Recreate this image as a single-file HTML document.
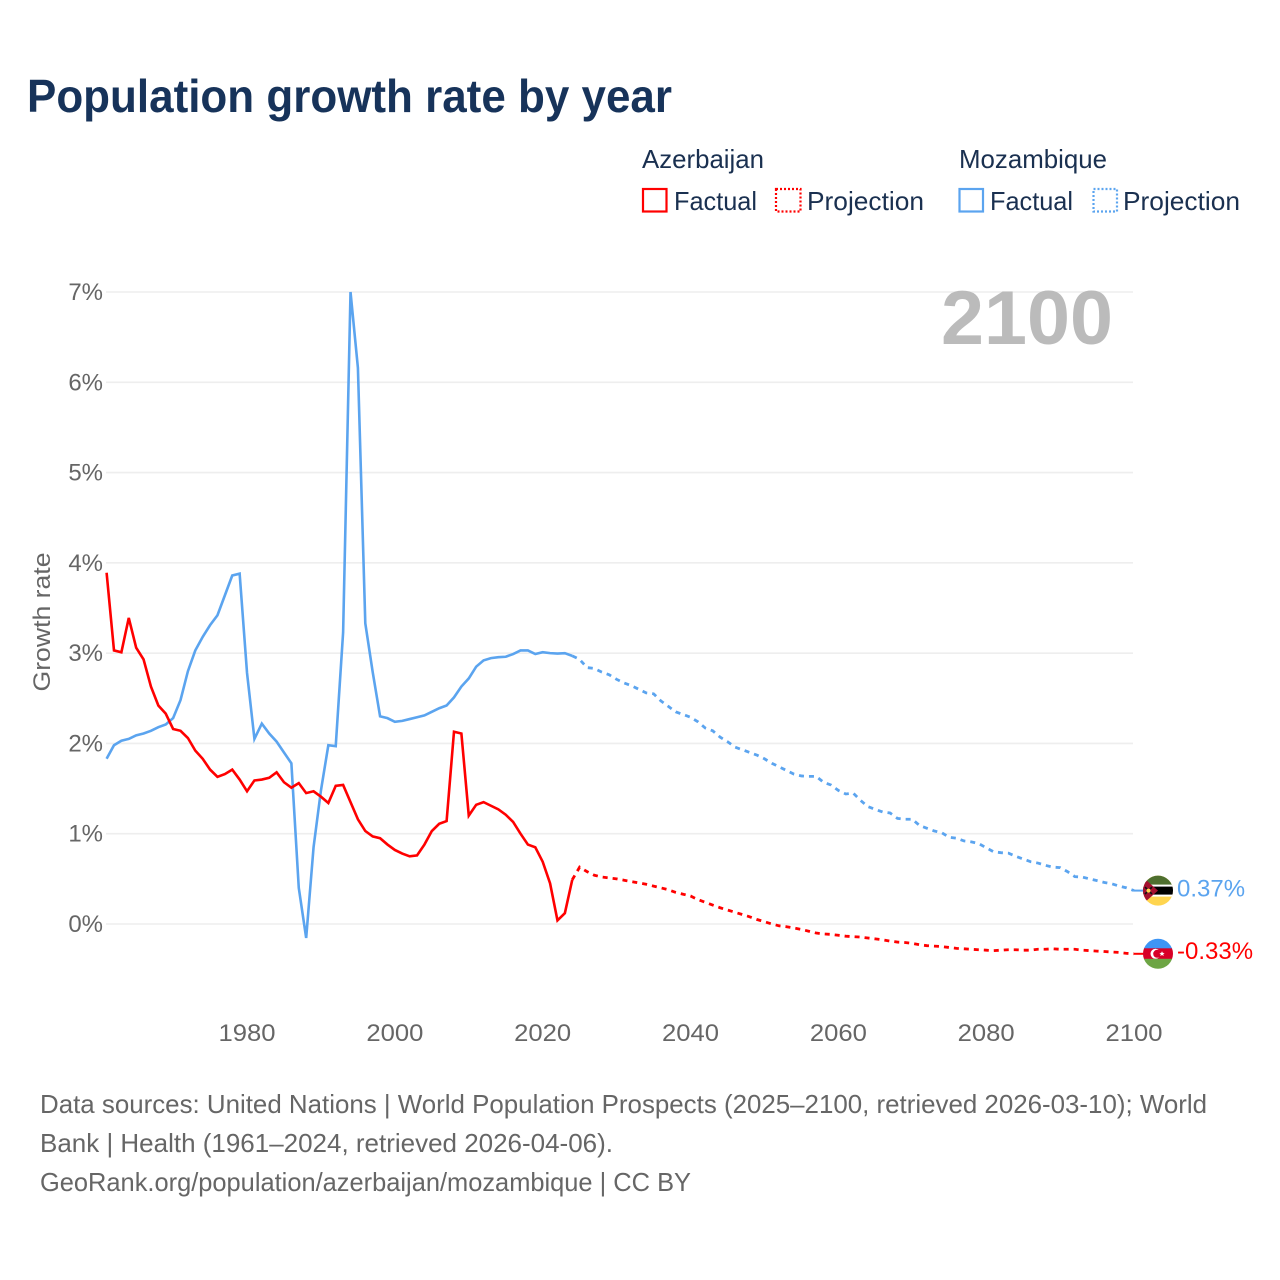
<!DOCTYPE html>
<html lang="en">
<head>
<meta charset="utf-8">
<title>Population growth rate by year</title>
<style>
html,body{margin:0;padding:0;background:#fff;}
svg{display:block;font-family:"Liberation Sans",sans-serif;}
</style>
</head>
<body>
<svg id="chart" xmlns="http://www.w3.org/2000/svg" width="1280" height="1280" viewBox="0 0 1280 1280">
  <rect width="1280" height="1280" fill="#fff"/>
  <text x="27" y="112" font-size="46" font-weight="700" fill="#17335a" textLength="645" lengthAdjust="spacingAndGlyphs">Population growth rate by year</text>

  <g font-size="26" fill="#1a3050">
    <text x="642" y="168" textLength="122" lengthAdjust="spacingAndGlyphs">Azerbaijan</text>
    <rect x="643" y="189" width="23.5" height="22.5" fill="none" stroke="#ff0000" stroke-width="2.2"/>
    <text x="674" y="210" textLength="83" lengthAdjust="spacingAndGlyphs">Factual</text>
    <rect x="776" y="189" width="24.5" height="22.5" fill="none" stroke="#ff0000" stroke-width="2.2" stroke-dasharray="2 2"/>
    <text x="807" y="210" textLength="117" lengthAdjust="spacingAndGlyphs">Projection</text>
    <text x="959" y="168" textLength="148" lengthAdjust="spacingAndGlyphs">Mozambique</text>
    <rect x="959.5" y="189" width="23.5" height="22.5" fill="none" stroke="#5ba4ef" stroke-width="2.2"/>
    <text x="990" y="210" textLength="83" lengthAdjust="spacingAndGlyphs">Factual</text>
    <rect x="1093.5" y="189" width="23.5" height="22.5" fill="none" stroke="#5ba4ef" stroke-width="2.2" stroke-dasharray="2 2"/>
    <text x="1123" y="210" textLength="117" lengthAdjust="spacingAndGlyphs">Projection</text>
  </g>

  <g id="grid"></g>
  <g id="yticks"></g>
  <g id="xticks"></g>
  <text transform="translate(50,622) rotate(-90)" text-anchor="middle" font-size="24" fill="#666" textLength="139" lengthAdjust="spacingAndGlyphs">Growth rate</text>
  <text x="941" y="344" font-size="76" font-weight="700" fill="#bbbbbb" textLength="172" lengthAdjust="spacingAndGlyphs">2100</text>

  <g id="series"></g>

  <defs>
    <clipPath id="flag-clip"><circle cx="0" cy="0" r="15"/></clipPath>
  </defs>
  <g id="flag-moz">
    <g clip-path="url(#flag-clip)">
      <rect x="-15" y="-16" width="30" height="32" fill="#ffd54f"/>
      <rect x="-15" y="-16" width="30" height="11" fill="#4e6f2f"/>
      <rect x="-15" y="-6" width="30" height="12" fill="#ffffff"/>
      <rect x="-15" y="-4" width="30" height="8" fill="#000000"/>
      <polygon points="-17,-15 0,0 -17,15" fill="#a5102f"/>
      <path d="M-13,-3.5 L-6,3.5 M-6,-3.5 L-13,3.5" stroke="#111" stroke-width="1.6"/>
      <circle cx="-9.5" cy="0" r="2" fill="#ffd54f"/>
    </g>
  </g>
  <g id="flag-aze">
    <g clip-path="url(#flag-clip)">
      <rect x="-15" y="-16" width="30" height="11" fill="#3d95f5"/>
      <rect x="-15" y="-5.5" width="30" height="11" fill="#d80027"/>
      <rect x="-15" y="5" width="30" height="11" fill="#6da544"/>
      <circle cx="-2.5" cy="0" r="5" fill="#fff"/>
      <circle cx="-0.8" cy="0" r="4" fill="#d80027"/>
      <polygon points="4,-2.6 4.8,-0.9 6.6,-0.8 5.2,0.4 5.7,2.2 4,1.2 2.3,2.2 2.8,0.4 1.4,-0.8 3.2,-0.9" fill="#fff"/>
    </g>
  </g>
  <g id="end-labels"></g>

  <g font-size="26" fill="#666">
    <text x="40" y="1113" textLength="1167" lengthAdjust="spacingAndGlyphs">Data sources: United Nations | World Population Prospects (2025–2100, retrieved 2026-03-10); World</text>
    <text x="40" y="1152" textLength="573" lengthAdjust="spacingAndGlyphs">Bank | Health (1961–2024, retrieved 2026-04-06).</text>
    <text x="40" y="1191" textLength="651" lengthAdjust="spacingAndGlyphs">GeoRank.org/population/azerbaijan/mozambique | CC BY</text>
  </g>
</svg>
<script>
const firstYear = 1961;
const lastFactualYear = 2024;
const lastYear = 2100;
const yTickValues = [0, 1, 2, 3, 4, 5, 6, 7];
const xTickYears = [1980, 2000, 2020, 2040, 2060, 2080, 2100];

const azerbaijanFactual = [
  3.89, 3.03, 3.01, 3.39, 3.06, 2.93, 2.63, 2.42, 2.33,
  2.16, 2.14, 2.06, 1.92, 1.83, 1.71, 1.63, 1.66, 1.71, 1.60,
  1.47, 1.59, 1.60, 1.62, 1.68, 1.57, 1.51, 1.56, 1.45, 1.47,
  1.41, 1.34, 1.53, 1.54, 1.35, 1.16, 1.03, 0.97, 0.95, 0.88,
  0.82, 0.78, 0.75, 0.76, 0.88, 1.03, 1.11, 1.14, 2.13, 2.11,
  1.20, 1.32, 1.35, 1.31, 1.27, 1.21, 1.13, 1.00, 0.88, 0.85,
  0.69, 0.45, 0.04, 0.12, 0.49
];
const azerbaijanProjection = [
  0.63, 0.58, 0.54, 0.52, 0.51,
  0.50, 0.485, 0.47, 0.455, 0.44, 0.42, 0.40, 0.38, 0.35, 0.33,
  0.31, 0.27, 0.24, 0.21, 0.18, 0.155, 0.13, 0.105, 0.08, 0.05,
  0.025, 0, -0.02, -0.03, -0.045, -0.06, -0.08, -0.10, -0.11, -0.115,
  -0.125, -0.135, -0.14, -0.145, -0.155, -0.165, -0.175, -0.19, -0.20, -0.205,
  -0.215, -0.23, -0.24, -0.245, -0.25, -0.26, -0.27, -0.275, -0.28, -0.285,
  -0.29, -0.295, -0.29, -0.285, -0.285, -0.29, -0.29, -0.28, -0.28, -0.275,
  -0.28, -0.28, -0.28, -0.29, -0.295, -0.30, -0.305, -0.31, -0.315, -0.325,
  -0.33
];
const mozambiqueFactual = [
  1.83, 1.98, 2.03, 2.05, 2.09, 2.11, 2.14, 2.18, 2.21,
  2.28, 2.48, 2.80, 3.03, 3.18, 3.31, 3.42, 3.64, 3.86, 3.88,
  2.78, 2.05, 2.22, 2.11, 2.02, 1.90, 1.78, 0.40, -0.155, 0.85,
  1.48, 1.98, 1.97, 3.23, 7.00, 6.16, 3.33, 2.79, 2.30, 2.28,
  2.24, 2.25, 2.27, 2.29, 2.31, 2.35, 2.39, 2.42, 2.51, 2.63,
  2.72, 2.85, 2.92, 2.945, 2.955, 2.96, 2.99, 3.03, 3.03, 2.99,
  3.01, 3.00, 2.995, 3.00, 2.97
];
const mozambiqueProjection = [
  2.93, 2.84, 2.83, 2.79, 2.76,
  2.71, 2.67, 2.64, 2.60, 2.56, 2.55, 2.47, 2.41, 2.35, 2.32,
  2.29, 2.24, 2.17, 2.14, 2.07, 2.02, 1.96, 1.93, 1.90, 1.87,
  1.83, 1.78, 1.74, 1.70, 1.66, 1.64, 1.635, 1.635, 1.57, 1.54,
  1.48, 1.44, 1.45, 1.37, 1.30, 1.27, 1.24, 1.23, 1.17, 1.16,
  1.16, 1.09, 1.06, 1.03, 1.01, 0.96, 0.95, 0.92, 0.91, 0.89,
  0.845, 0.80, 0.79, 0.785, 0.75, 0.72, 0.69, 0.675, 0.65, 0.63,
  0.625, 0.58, 0.525, 0.52, 0.50, 0.48, 0.46, 0.445, 0.42, 0.40,
  0.37
];

const NS = 'http://www.w3.org/2000/svg';
const plotLeft = 106.6, plotRight = 1134, y0 = 924, y7 = 292;
const gridLeft = 106, gridRight = 1133;
function xScale(year) {
  return plotLeft + (year - firstYear) * (plotRight - plotLeft) / (lastYear - firstYear);
}
function yScale(v) {
  return y0 + v * (y7 - y0) / 7;
}
function make(tag) {
  return document.createElementNS(NS, tag);
}

const gridG = document.getElementById('grid');
const yG = document.getElementById('yticks');
yTickValues.forEach(function (v) {
  const line = make('line');
  
  
  line.setAttribute('x1', gridLeft);
  line.setAttribute('x2', gridRight);
  line.setAttribute('y1', yScale(v));
  line.setAttribute('y2', yScale(v));
  line.setAttribute('stroke', '#eeeeee');
  line.setAttribute('stroke-width', '1.6');
  gridG.appendChild(line);
  const t = make('text');
  
  
  t.setAttribute('x', 103);
  t.setAttribute('y', yScale(v) + 8);
  t.setAttribute('text-anchor', 'end');
  t.setAttribute('font-size', '24');
  t.setAttribute('fill', '#666');
  t.textContent = v + '%';
  yG.appendChild(t);
});

const xG = document.getElementById('xticks');
xTickYears.forEach(function (yr) {
  const t = make('text');
  
  
  t.setAttribute('x', xScale(yr));
  t.setAttribute('y', 1041);
  t.setAttribute('text-anchor', 'middle');
  t.setAttribute('font-size', '24');
  t.setAttribute('fill', '#666');
  t.setAttribute('textLength', '57');
  t.setAttribute('lengthAdjust', 'spacingAndGlyphs');
  t.textContent = String(yr);
  xG.appendChild(t);
});

function pathFrom(points) {
  return points.map(function (p, i) {
    return (i ? 'L' : 'M') + p[0].toFixed(2) + ' ' + p[1].toFixed(2);
  }).join(' ');
}
function factualPoints(values) {
  return values.map(function (v, i) { return [xScale(firstYear + i), yScale(v)]; });
}
function projectionPoints(factual, values) {
  const pts = [[xScale(lastFactualYear), yScale(factual[factual.length - 1])]];
  values.forEach(function (v, i) { pts.push([xScale(lastFactualYear + 1 + i), yScale(v)]); });
  return pts;
}

const seriesG = document.getElementById('series');
const colorAze = '#ff0000', colorMoz = '#5ba4ef';

const mozFact = make('path');


mozFact.setAttribute('d', pathFrom(factualPoints(mozambiqueFactual)));
mozFact.setAttribute('fill', 'none');
mozFact.setAttribute('stroke', colorMoz);
mozFact.setAttribute('stroke-width', '2.6');
seriesG.appendChild(mozFact);

const mozProj = make('path');


mozProj.setAttribute('d', pathFrom(projectionPoints(mozambiqueFactual, mozambiqueProjection)));
mozProj.setAttribute('fill', 'none');
mozProj.setAttribute('stroke', colorMoz);
mozProj.setAttribute('stroke-width', '2.8');
mozProj.setAttribute('stroke-dasharray', '5 5');
seriesG.appendChild(mozProj);

const azeFact = make('path');


azeFact.setAttribute('d', pathFrom(factualPoints(azerbaijanFactual)));
azeFact.setAttribute('fill', 'none');
azeFact.setAttribute('stroke', colorAze);
azeFact.setAttribute('stroke-width', '2.6');
seriesG.appendChild(azeFact);

const azeProj = make('path');


azeProj.setAttribute('d', pathFrom(projectionPoints(azerbaijanFactual, azerbaijanProjection)));
azeProj.setAttribute('fill', 'none');
azeProj.setAttribute('stroke', colorAze);
azeProj.setAttribute('stroke-width', '2.8');
azeProj.setAttribute('stroke-dasharray', '5 5');
seriesG.appendChild(azeProj);

const endMoz = mozambiqueProjection[mozambiqueProjection.length - 1];
const endAze = azerbaijanProjection[azerbaijanProjection.length - 1];

const connMoz = make('line');


connMoz.setAttribute('x1', xScale(lastYear));
connMoz.setAttribute('x2', xScale(lastYear) + 10);
connMoz.setAttribute('y1', yScale(endMoz));
connMoz.setAttribute('y2', yScale(endMoz));
connMoz.setAttribute('stroke', colorMoz);
connMoz.setAttribute('stroke-width', '2');
seriesG.appendChild(connMoz);

const connAze = make('line');


connAze.setAttribute('x1', xScale(lastYear));
connAze.setAttribute('x2', xScale(lastYear) + 10);
connAze.setAttribute('y1', yScale(endAze));
connAze.setAttribute('y2', yScale(endAze));
connAze.setAttribute('stroke', colorAze);
connAze.setAttribute('stroke-width', '2');
seriesG.appendChild(connAze);

document.getElementById('flag-moz').setAttribute('transform', 'translate(1158,' + yScale(endMoz) + ')');
document.getElementById('flag-aze').setAttribute('transform', 'translate(1158,' + yScale(endAze) + ')');

const labelsG = document.getElementById('end-labels');
const lblMoz = make('text');


lblMoz.setAttribute('x', 1177);
lblMoz.setAttribute('y', yScale(endMoz) + 6);
lblMoz.setAttribute('font-size', '24');
lblMoz.setAttribute('fill', colorMoz);
lblMoz.textContent = endMoz.toFixed(2) + '%';
labelsG.appendChild(lblMoz);

const lblAze = make('text');


lblAze.setAttribute('x', 1177);
lblAze.setAttribute('y', yScale(endAze) + 5);
lblAze.setAttribute('font-size', '24');
lblAze.setAttribute('fill', colorAze);
lblAze.textContent = endAze.toFixed(2) + '%';
labelsG.appendChild(lblAze);
</script>
</body>
</html>
